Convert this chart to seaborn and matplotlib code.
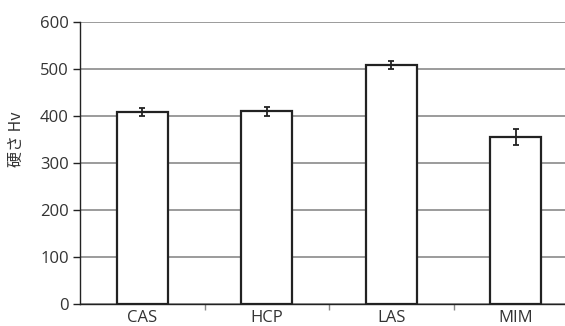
import matplotlib
matplotlib.use("Agg")
import matplotlib.pyplot as plt
import seaborn as sns
import pandas as pd

categories = ["CAS", "HCP", "LAS", "MIM"]
hardness = [408, 410, 508, 356]
hardness_err = [9, 9, 8, 17]
y_ticks = [0, 100, 200, 300, 400, 500, 600]

sns.set_theme(style="white")
plt.rcParams["font.family"] = ["Open Sans", "Noto Sans CJK JP", "DejaVu Sans"]

df = pd.DataFrame({"material": categories, "hv": hardness})

W, H = 565, 326
fig = plt.figure(figsize=(W / 100, H / 100), dpi=100)
ax = fig.add_axes([80 / W, 22 / H, 498 / W, 282 / H])

sns.barplot(data=df, x="material", y="hv", ax=ax, color="white",
            edgecolor="#222222", linewidth=1.6, width=0.41, errorbar=None,
            zorder=3)
ax.errorbar(range(len(categories)), hardness, yerr=hardness_err, fmt="none",
            ecolor="#222222", elinewidth=1.3, capsize=2.5, capthick=1.3,
            zorder=4)

ax.set_xlim(-0.5, len(categories) - 0.5)
ax.set_ylim(0, 600)
ax.set_yticks(y_ticks)
ax.yaxis.grid(True, color="#8a8a8a", linewidth=1.2, zorder=0)
ax.set_axisbelow(True)

for side in ["top", "right"]:
    ax.spines[side].set_visible(False)
for side in ["left", "bottom"]:
    ax.spines[side].set_color("#222222")
    ax.spines[side].set_linewidth(1.0)

ax.tick_params(axis="y", which="major", left=True, length=5, width=1.0,
               color="#222222", labelsize=12, labelcolor="#333333", pad=3)
ax.tick_params(axis="x", which="major", bottom=False, length=0,
               labelsize=12, labelcolor="#333333", pad=4)
ax.set_xticks([i + 0.5 for i in range(len(categories) - 1)], minor=True)
ax.tick_params(axis="x", which="minor", bottom=True, length=4, width=1.0,
               color="#888888")

ax.set_xlabel("")
ax.set_ylabel("")
fig.text(16 / W, 1 - 139 / H, "硬さ Hv", rotation=90, ha="center",
         va="center", fontsize=11.5, color="#333333",
         family=["Noto Sans CJK JP", "DejaVu Sans"])

fig.savefig("out.png", dpi=100)
